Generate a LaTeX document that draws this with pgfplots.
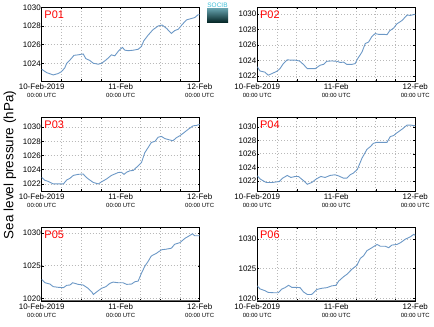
\documentclass[border=0pt]{standalone}
\usepackage{pgfplots}
\pgfplotsset{compat=1.18}
\usepackage{fontspec}
\setmainfont{Liberation Sans}
\definecolor{lineblue}{RGB}{108,152,198}
\definecolor{gridgray}{RGB}{185,185,185}
\definecolor{logocyan}{RGB}{60,190,215}
\tikzset{plabel/.style={red, font=\fontsize{11}{12}\selectfont, anchor=north west, inner sep=0pt, xshift=2.6bp, yshift=-3.6bp}}
\pgfplotsset{
  panel/.style={
    scale only axis, width=158bp, height=73.7bp, anchor=south west,
    xmin=0, xmax=48, xtick={0,24,48},
    minor xtick={6,12,18,30,36,42},
    xticklabels={{10-Feb-2019\\[-1.5bp]{\fontsize{6}{7}\selectfont 00:00 UTC}},{11-Feb\\[-1.5bp]{\fontsize{6}{7}\selectfont 00:00 UTC}},{12-Feb\\[-1.5bp]{\fontsize{6}{7}\selectfont 00:00 UTC}}},
    xticklabel style={align=center, font=\fontsize{8}{9}\selectfont, inner sep=1bp, yshift=-2bp},
    yticklabel style={font=\fontsize{8}{9}\selectfont, inner sep=0.8bp},
    /pgf/number format/assume math mode=true,
    /pgf/number format/1000 sep={},
    scaled y ticks=false,
    grid=both,
    grid style={dash pattern=on 0.8bp off 2.2bp, gridgray, line width=0.7bp},
    minor grid style={dash pattern=on 0.8bp off 2.2bp, gridgray, line width=0.7bp},
    tick align=inside, major tick length=2bp, minor tick length=2bp,
    tick style={black, line width=0.5bp},
    axis line style={black, line width=0.7bp},
    clip=true,
  },
  dataline/.style={lineblue, line width=0.9bp, mark=none},
}
\begin{document}
\begin{tikzpicture}
\path[use as bounding box] (0,0) rectangle (434bp,327bp);

% P01
\begin{axis}[panel, at={(41.7bp,246bp)}, ymin=1022.1, ymax=1030, ytick={1024,1026,1028,1030}]
\addplot[dataline] coordinates {(0,1023.36)(1.5,1023.0)(3.5,1022.75)(5,1022.9)(6,1023.1)(7,1023.5)(7.6,1024.0)(8.6,1024.35)(9.8,1024.85)(11,1024.9)(12.6,1025.0)(13.4,1024.5)(14.6,1024.3)(15.7,1024.0)(17.2,1023.9)(18.2,1024.0)(19.7,1024.4)(21.2,1024.9)(22.2,1024.8)(23.4,1025.35)(24.5,1025.7)(25.3,1025.4)(26.3,1025.35)(27.8,1025.4)(29.3,1025.5)(30.3,1025.8)(31,1026.4)(32.3,1027.0)(33.8,1027.6)(35.4,1028.0)(36.6,1028.1)(37.9,1027.75)(39.4,1027.2)(40.4,1027.5)(41.5,1027.65)(42.8,1028.2)(44,1028.65)(45.5,1028.8)(46.5,1028.9)(47.5,1029.2)(48,1029.2)};
\node[plabel] at (rel axis cs:0,1) {P01};
\end{axis}

% P02
\begin{axis}[panel, at={(257.3bp,246bp)}, ymin=1021.35, ymax=1030.9, ytick={1022,1024,1026,1028,1030}]
\addplot[dataline] coordinates {(0,1023.2)(0.8,1022.65)(2.3,1022.5)(3.3,1022.1)(4.4,1022.3)(5.9,1022.6)(6.9,1022.95)(7.9,1023.6)(9.1,1024.1)(10.2,1024.05)(11.5,1024.05)(12.8,1023.95)(14.0,1023.5)(15.2,1022.95)(16.5,1022.95)(17.6,1022.95)(19.1,1023.4)(20.1,1023.5)(21.1,1023.9)(22.6,1023.95)(24.2,1023.9)(25.2,1023.75)(26.2,1023.8)(27.2,1023.5)(28.7,1023.5)(29.7,1023.6)(30.5,1024.25)(31.8,1025.1)(32.8,1026.2)(33.8,1026.4)(34.8,1027.1)(35.8,1027.5)(36.8,1027.4)(38.4,1027.4)(39.4,1027.35)(40.2,1027.85)(41.4,1028.2)(42.4,1028.75)(44,1029.2)(45.5,1029.9)(46.5,1029.85)(48,1030.0)};
\node[plabel] at (rel axis cs:0,1) {P02};
\end{axis}

% P03
\begin{axis}[panel, at={(41.7bp,136bp)}, ymin=1021.0, ymax=1031.4, ytick={1022,1024,1026,1028,1030}]
\addplot[dataline] coordinates {(0,1022.9)(1,1022.5)(2,1022.35)(3.5,1022.0)(5,1022.0)(6.6,1022.0)(7.6,1022.55)(8.6,1022.8)(9.6,1023.2)(11.1,1023.35)(12.6,1023.4)(13.6,1022.9)(14.6,1022.55)(15.7,1022.2)(17.2,1022.0)(18.2,1022.3)(19.7,1022.7)(21.2,1023.2)(22.2,1023.4)(23.2,1023.6)(24.2,1023.65)(25,1023.35)(25.8,1023.65)(26.8,1023.85)(27.8,1023.9)(29.3,1024.55)(30.3,1025.0)(31.3,1026.4)(32.3,1027.1)(33.3,1027.85)(34.4,1028.0)(35.4,1028.6)(36.4,1028.7)(37.4,1028.4)(38.9,1028.2)(39.9,1028.1)(41,1028.55)(42,1028.8)(43,1029.15)(44.5,1029.7)(46,1030.2)(47,1030.25)(48,1030.4)};
\node[plabel] at (rel axis cs:0,1) {P03};
\end{axis}

% P04
\begin{axis}[panel, at={(257.3bp,136bp)}, ymin=1020.5, ymax=1031.4, ytick={1022,1024,1026,1028,1030}]
\addplot[dataline] coordinates {(0,1022.75)(0.8,1022.3)(1.8,1022.0)(2.8,1021.75)(4.4,1021.75)(5.9,1021.85)(6.7,1021.9)(7.7,1022.4)(9.1,1022.8)(10.2,1022.5)(11.5,1022.65)(12.5,1022.65)(14.0,1022.05)(15.2,1021.5)(16.5,1021.75)(18.0,1022.3)(19.3,1022.65)(20.6,1022.5)(22.1,1022.8)(23.6,1022.9)(24.6,1022.75)(26.2,1022.4)(27.2,1022.4)(28.2,1022.9)(29.2,1023.15)(30.4,1023.7)(31.8,1025.35)(33.3,1026.65)(34.3,1027.05)(35.3,1027.55)(36.3,1027.7)(37.9,1027.7)(39.4,1027.7)(40.4,1028.55)(41.4,1028.7)(42.4,1029.1)(44,1029.65)(45.5,1030.25)(46.5,1030.25)(48,1030.15)};
\node[plabel] at (rel axis cs:0,1) {P04};
\end{axis}

% P05
\begin{axis}[panel, at={(41.7bp,26bp)}, ymin=1019.6, ymax=1030.9, ytick={1020,1025,1030}]
\addplot[dataline] coordinates {(0,1022.9)(1,1022.4)(2.5,1022.2)(3.5,1021.8)(5,1021.7)(6.6,1021.65)(7.6,1022.0)(8.6,1022.05)(9.4,1022.4)(11.1,1022.15)(12.6,1022.05)(14.1,1021.55)(15.2,1021.0)(15.7,1020.6)(16.7,1021.0)(18.2,1021.55)(19.5,1021.8)(20.7,1022.3)(21.7,1022.5)(23.2,1022.4)(24.7,1022.4)(25.8,1022.15)(27.3,1022.2)(28.3,1022.55)(29.3,1022.65)(30.3,1023.85)(31.3,1024.9)(32.3,1025.65)(33.3,1026.5)(34.8,1026.9)(36.4,1027.45)(37.9,1027.55)(39.4,1027.7)(40.4,1028.3)(42,1028.55)(43.5,1029.2)(45,1029.65)(45.8,1029.9)(46.5,1029.6)(48,1029.6)};
\node[plabel] at (rel axis cs:0,1) {P05};
\draw[black!60, line width=2bp] (rel axis cs:0,0) -- (rel axis cs:1,0);
\end{axis}

% P06
\begin{axis}[panel, at={(257.3bp,26bp)}, ymin=1019.55, ymax=1032, ytick={1020,1025,1030}]
\addplot[dataline] coordinates {(0,1022.1)(0.8,1021.6)(2.3,1021.3)(3.3,1021.0)(4.9,1020.95)(6.4,1020.95)(7.4,1021.55)(8.4,1021.8)(9.5,1022.2)(10.5,1021.85)(12,1021.85)(13,1021.8)(14,1021.1)(15.2,1020.65)(16.5,1020.65)(18.1,1021.5)(19.6,1021.7)(21.1,1021.8)(22.6,1022.1)(23.9,1022.2)(24.7,1022.9)(26.2,1023.65)(27.2,1024.05)(28.7,1024.9)(30.3,1025.6)(31.3,1026.75)(32.3,1027.2)(33.3,1028.05)(34.8,1028.55)(36.4,1029.1)(37.4,1028.8)(38.9,1028.8)(39.9,1028.55)(40.9,1029.0)(42.4,1029.1)(43.5,1029.4)(45,1030.0)(46.5,1030.4)(47.5,1030.8)(48,1030.65)};
\node[plabel] at (rel axis cs:0,1) {P06};
\draw[black!60, line width=2bp] (rel axis cs:0,0) -- (rel axis cs:1,0);
\end{axis}

% y label
\node[rotate=90, font=\fontsize{13.5}{15}\selectfont, inner sep=0pt] at (10bp,162bp) {Sea level pressure (hPa)};

% logo
\shade[top color=logocyan!45!gray, bottom color=black!75!teal] (207bp,304bp) rectangle (228bp,318bp);
\node[logocyan, font=\fontsize{6.5}{6.5}\selectfont, inner sep=0pt] at (217.5bp,321.5bp) {SOCIB};
\end{tikzpicture}
\end{document}
